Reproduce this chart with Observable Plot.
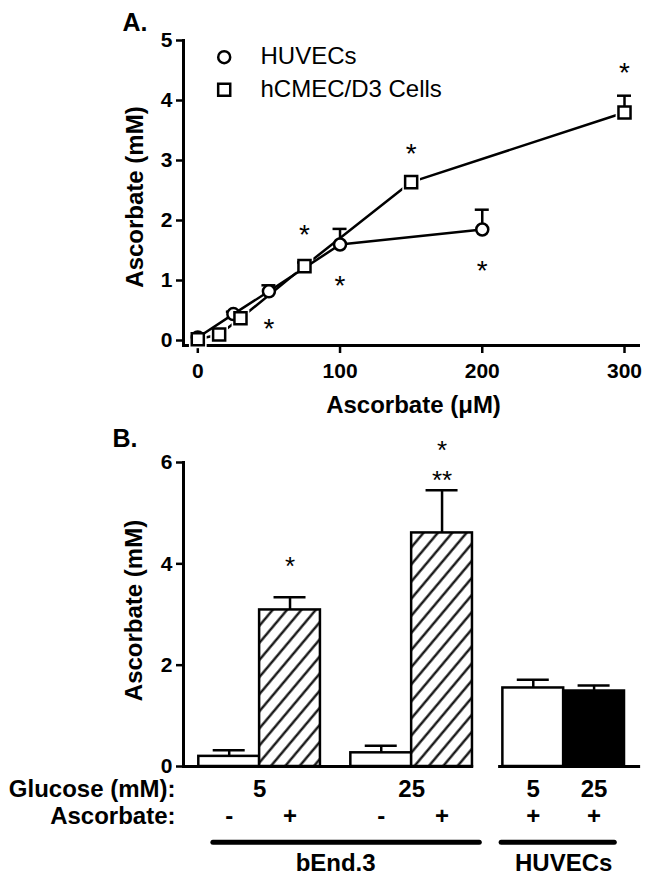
<!DOCTYPE html>
<html><head><meta charset="utf-8">
<script src="https://cdn.jsdelivr.net/npm/d3@7"></script>
<script src="https://cdn.jsdelivr.net/npm/@observablehq/plot@0.6"></script>
<style>
html,body{margin:0;padding:0;background:#fff;}
#wrap{position:relative;width:649px;height:879px;background:#fff;overflow:hidden;}
#wrap > svg{position:absolute;left:0;}
</style></head><body>
<svg width="0" height="0" style="position:absolute">
 <defs>
  <pattern id="hatch" patternUnits="userSpaceOnUse" width="11" height="11" patternTransform="rotate(40)">
   <rect width="11" height="11" fill="white"/>
   <line x1="5.5" y1="-1" x2="5.5" y2="12" stroke="black" stroke-width="2.2"/>
  </pattern>
 </defs>
</svg>
<div id="wrap"></div>
<script>
// ---------- Panel A data ----------
const huvecConc = [0, 25, 50, 100, 200];
const huvecMean = [0.05, 0.44, 0.82, 1.60, 1.85];
const huvecSem  = [0.00, 0.04, 0.10, 0.26, 0.33];
const hcmecConc = [0, 15, 30, 75, 150, 300];
const hcmecMean = [0.02, 0.10, 0.37, 1.24, 2.64, 3.80];
const hcmecSem  = [0.00, 0.00, 0.00, 0.06, 0.00, 0.28];
const starsAX = [50, 75, 100, 150, 200, 300];
const starsAY = [0.30, 1.88, 1.03, 3.23, 1.27, 4.57];
const xTicksA = [0, 100, 200, 300];
const yTicksA = [0, 1, 2, 3, 4, 5];
const seriesNames = ["HUVECs", "hCMEC/D3 Cells"];

// ---------- Panel B data ----------
const cellLines = ["bEnd.3", "bEnd.3", "bEnd.3", "bEnd.3", "HUVECs", "HUVECs"];
const glucose = [5, 5, 25, 25, 5, 25];
const ascorbateAdded = ["-", "+", "-", "+", "+", "+"];
const barMean = [0.20, 3.09, 0.27, 4.61, 1.55, 1.49];
const barSem  = [0.12, 0.25, 0.14, 0.84, 0.16, 0.11];
const starBar = [1, 3, 3];
const starLabel = ["*", "*", "**"];
const starY = [4.07, 6.37, 5.77];
const yTicksB = [0, 2, 4, 6];

// ---------- styles ----------
const FONT = "'Liberation Sans', Arial, Helvetica, sans-serif";
const SW = 2.5;
const STAR = 28;
const STAR_B = 26;
const barFills = ["white", "url(#hatch)", "white", "url(#hatch)", "white", "black"];
const T = {lineAnchor: "middle"};

// ---------- Panel A ----------
const huvec = huvecConc.map((x, i) => ({x, y: huvecMean[i], e: huvecSem[i]}));
const hcmec = hcmecConc.map((x, i) => ({x, y: hcmecMean[i], e: hcmecSem[i]}));
const starsA = starsAX.map((x, i) => ({x, y: starsAY[i]}));
const errA = [...hcmec, ...huvec].filter(d => d.e > 0);

const plotA = Plot.plot({
  width: 649, height: 430,
  marginLeft: 183, marginRight: 11, marginTop: 40, marginBottom: 85,
  style: {fontFamily: FONT, fontSize: "20px", color: "black", background: "white", overflow: "visible"},
  x: {domain: [0, 300], range: [197.3, 624], axis: null},
  y: {domain: [0, 5], range: [340, 40], axis: null},
  marks: [
    Plot.frame({anchor: "left", strokeWidth: 3}),
    Plot.frame({anchor: "bottom", strokeWidth: 3}),
    Plot.axisX({ticks: xTicksA, tickSize: 8, tickPadding: 10, fontSize: 21, fontWeight: "bold", strokeWidth: SW, label: null, tickFormat: d => String(d)}),
    Plot.axisY({ticks: yTicksA, tickSize: 7, tickPadding: 4, fontSize: 21, fontWeight: "bold", strokeWidth: SW, label: null, tickFormat: d => String(d)}),
    Plot.line(hcmec, {x: "x", y: "y", stroke: "black", strokeWidth: SW}),
    Plot.dot(hcmec, {x: "x", y: "y", symbol: "square", r: 10, fill: "white", stroke: "none"}),
    Plot.line(huvec, {x: "x", y: "y", stroke: "black", strokeWidth: SW}),
    Plot.ruleX(errA, {x: "x", y1: "y", y2: d => d.y + d.e, strokeWidth: SW}),
    Plot.ruleY(errA, {y: d => d.y + d.e, x1: "x", x2: "x", insetLeft: -7, insetRight: -7, strokeWidth: SW}),
    Plot.dot(huvec, {x: "x", y: "y", r: 6, fill: "white", stroke: "black", strokeWidth: SW}),
    Plot.dot(hcmec, {x: "x", y: "y", symbol: "square", r: 6.8, fill: "white", stroke: "black", strokeWidth: SW}),
    Plot.text(starsA, {...T, x: "x", y: "y", text: () => "*", fontSize: STAR, dy: 7}),
    // legend
    Plot.dot([seriesNames[0]], {frameAnchor: "top-left", dx: 40.7, dy: 16.7, r: 6, fill: "white", stroke: "black", strokeWidth: SW}),
    Plot.dot([seriesNames[1]], {frameAnchor: "top-left", dx: 40.7, dy: 49.3, symbol: "square", r: 6.8, fill: "white", stroke: "black", strokeWidth: SW}),
    Plot.text([seriesNames[0]], {...T, frameAnchor: "top-left", dx: 77, dy: 16.3, textAnchor: "start", fontSize: 24}),
    Plot.text([seriesNames[1]], {...T, frameAnchor: "top-left", dx: 77, dy: 49, textAnchor: "start", fontSize: 24}),
    // titles
    Plot.text(["A."], {...T, frameAnchor: "top-left", dx: -61, dy: -18, textAnchor: "start", fontSize: 25, fontWeight: "bold"}),
    Plot.text(["Ascorbate (mM)"], {...T, frameAnchor: "left", textAnchor: "middle", rotate: -90, dx: -48, dy: 4, fontSize: 24, fontWeight: "bold"}),
    Plot.text(["Ascorbate (\u03bcM)"], {...T, frameAnchor: "bottom", textAnchor: "middle", dx: 2.5, dy: 60, fontSize: 24, fontWeight: "bold"})
  ]
});
plotA.style.top = "0px";

// ---------- Panel B ----------
let g = -1, j = 0, prevKey = null;
const bars = barMean.map((mean, i) => {
  const key = cellLines[i] === "bEnd.3" ? cellLines[i] + glucose[i] : cellLines[i];
  if (key !== prevKey) { g++; j = 0; prevKey = key; } else { j++; }
  return {i, u: g * 2.5 + j, group: g, cell: cellLines[i], glucose: glucose[i], asc: ascorbateAdded[i],
          mean, sem: barSem[i], fill: barFills[i]};
});
// glucose labels: per pair for bEnd.3, per bar for HUVECs
const glucoseLabels = [];
d3.groups(bars, d => d.group).forEach(([grp, arr]) => {
  if (arr[0].cell === "bEnd.3") glucoseLabels.push({u: d3.mean(arr, d => d.u), label: String(arr[0].glucose)});
  else arr.forEach(d => glucoseLabels.push({u: d.u, label: String(d.glucose)}));
});
const cellGroups = d3.groups(bars, d => d.cell).map(([name, arr]) => ({
  name, first: d3.min(arr, d => d.u), last: d3.max(arr, d => d.u), mid: (d3.min(arr, d => d.u) + d3.max(arr, d => d.u)) / 2
}));
const axisSegs = [
  {x1: cellGroups[0].first - 0.75, x2: cellGroups[0].last + 0.52},
  {x1: cellGroups[1].first - 0.57, x2: cellGroups[1].last + 0.765}
];
const groupSpans = [
  {x1: cellGroups[0].first - 0.26, x2: cellGroups[0].last + 0.62},
  {x1: cellGroups[1].first - 0.52, x2: cellGroups[1].last + 0.34}
];
const starsB = starBar.map((b, k) => ({u: bars[b].u, y: starY[k], label: starLabel[k]}));

const plotB = Plot.plot({
  width: 649, height: 449,
  marginLeft: 183, marginRight: 9, marginTop: 32, marginBottom: 113,
  style: {fontFamily: FONT, fontSize: "20px", color: "black", background: "white", overflow: "visible"},
  x: {domain: [-0.5, 6.5], range: [198.3, 624], axis: null},
  y: {domain: [0, 6], axis: null},
  marks: [
    Plot.frame({anchor: "left", strokeWidth: 3}),
    Plot.axisY({ticks: yTicksB, tickSize: 7, tickPadding: 4, fontSize: 21, fontWeight: "bold", strokeWidth: SW, label: null, tickFormat: d => String(d)}),
    Plot.ruleX(bars, {x: "u", y1: "mean", y2: d => d.mean + d.sem, strokeWidth: SW}),
    Plot.ruleY(bars, {y: d => d.mean + d.sem, x1: "u", x2: "u", insetLeft: -16, insetRight: -16, strokeWidth: SW}),
    ...barFills.filter((f, k) => barFills.indexOf(f) === k).map(f =>
      Plot.rectY(bars.filter(d => d.fill === f), {x1: d => d.u - 0.5, x2: d => d.u + 0.5, y: "mean", fill: f, stroke: "black", strokeWidth: SW})),
    Plot.ruleY(axisSegs, {y: () => 0, x1: "x1", x2: "x2", strokeWidth: 3}),
    Plot.text(starsB, {...T, x: "u", y: "y", text: "label", fontSize: STAR_B, dy: 6.5}),
    // row labels
    Plot.text(["Glucose (mM):"], {...T, frameAnchor: "bottom-left", dx: -8, dy: 23.3, textAnchor: "end", fontSize: 24, fontWeight: "bold"}),
    Plot.text(["Ascorbate:"], {...T, frameAnchor: "bottom-left", dx: -8, dy: 50, textAnchor: "end", fontSize: 24, fontWeight: "bold"}),
    Plot.text(glucoseLabels, {...T, x: "u", text: "label", frameAnchor: "bottom", dy: 23.3, fontSize: 24, fontWeight: "bold"}),
    Plot.text(bars, {...T, x: "u", text: "asc", frameAnchor: "bottom", dy: 50, fontSize: 24, fontWeight: "bold"}),
    Plot.ruleY(groupSpans, {y: () => 0, dy: 75.7, x1: "x1", x2: "x2", strokeWidth: 5, strokeLinecap: "round"}),
    Plot.text(cellGroups, {...T, x: "mid", text: "name", frameAnchor: "bottom", dy: 96.4, fontSize: 24, fontWeight: "bold"}),
    // titles
    Plot.text(["B."], {...T, frameAnchor: "top-left", dx: -71, dy: -23.5, textAnchor: "start", fontSize: 25, fontWeight: "bold"}),
    Plot.text(["Ascorbate (mM)"], {...T, frameAnchor: "left", textAnchor: "middle", rotate: -90, dx: -49.5, dy: -4, fontSize: 24, fontWeight: "bold"})
  ]
});
plotB.style.top = "430px";

const wrap = document.getElementById("wrap");
wrap.appendChild(plotA);
wrap.appendChild(plotB);
</script>
</body></html>
